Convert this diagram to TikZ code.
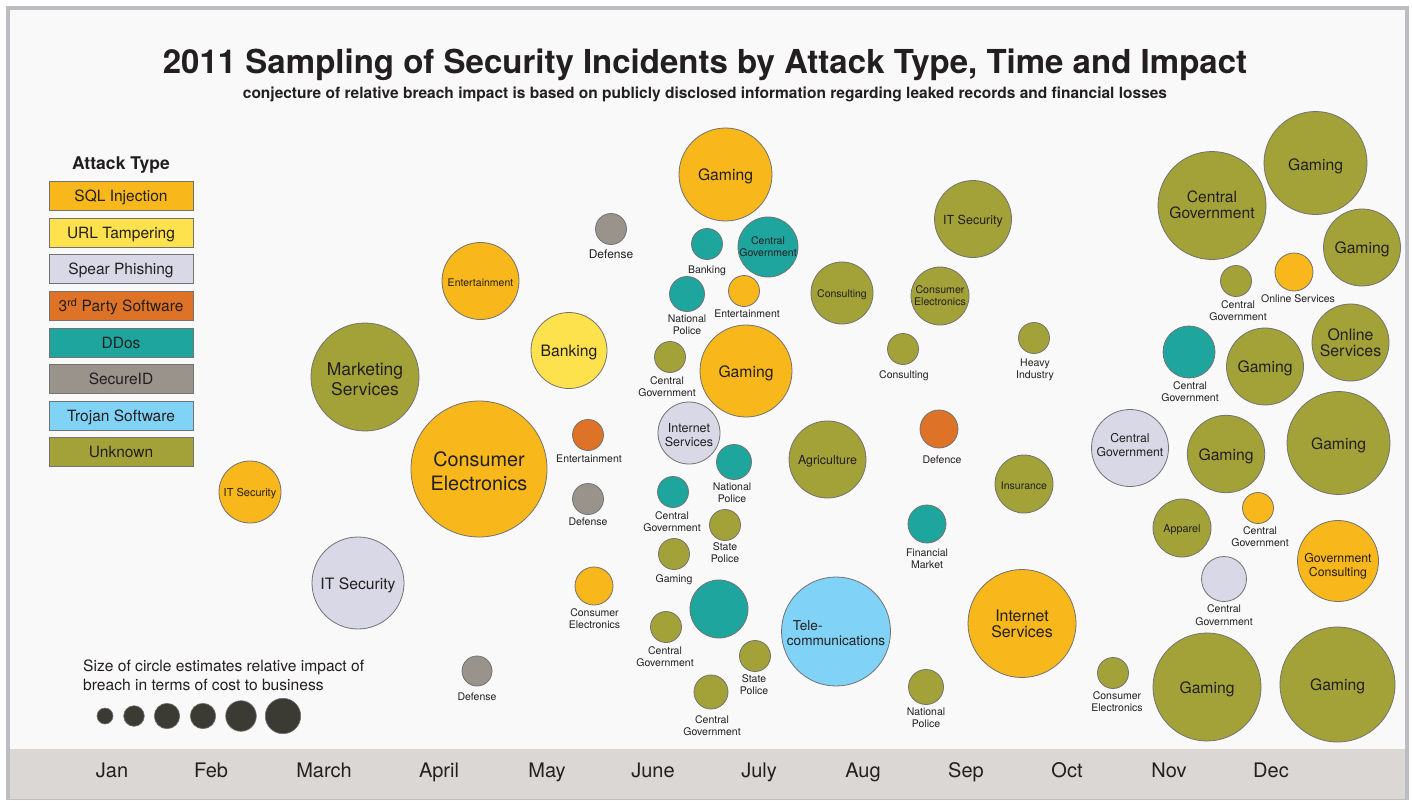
\documentclass[tikz,border=0pt]{standalone}
\usepackage{fontspec}
\setmainfont{TeX Gyre Heros}
\usetikzlibrary{calc}
\definecolor{csql}{HTML}{F8B71B}
\definecolor{curl}{HTML}{FDE14D}
\definecolor{cspear}{HTML}{D9D8E7}
\definecolor{cthird}{HTML}{DE7327}
\definecolor{cddos}{HTML}{1EA59D}
\definecolor{csecid}{HTML}{9A938C}
\definecolor{ctrojan}{HTML}{80D2F6}
\definecolor{cunk}{HTML}{A3A239}
\definecolor{cdot}{HTML}{3B3A33}
\definecolor{bord}{HTML}{727272}
\definecolor{tx}{HTML}{231F20}
\definecolor{frame}{HTML}{BCBDC0}
\definecolor{inner}{HTML}{F9F9F9}
\definecolor{bar}{HTML}{DBD7D4}
\newcommand\fsz[2]{\fontsize{#1}{#2}\selectfont}
\tikzset{
  bub/.style={circle, draw=bord, line width=0.8pt, inner sep=0pt},
  sql/.style={bub, fill=csql},
  url/.style={bub, fill=curl},
  spear/.style={bub, fill=cspear},
  third/.style={bub, fill=cthird},
  ddos/.style={bub, fill=cddos},
  secid/.style={bub, fill=csecid},
  trojan/.style={bub, fill=ctrojan},
  unk/.style={bub, fill=cunk},
  dot/.style={circle, fill=cdot, draw=bord, line width=0.6pt, inner sep=0pt},
  intxt/.style={text=tx, align=center, inner sep=0pt, yshift=-2pt},
  lab/.style={text=tx, align=center, inner sep=0pt, anchor=base, font=\fsz{10.5}{12}},
  legbox/.style={draw=bord, line width=1pt, minimum width=144pt, minimum height=29pt, inner sep=0pt, text=tx, text height=11pt, text depth=0pt, font=\fsz{15.5}{18}},
  month/.style={text=tx, anchor=base, inner sep=0pt, font=\fsz{20}{24}},
  sm/.style={font=\fsz{10.5}{12}},
  md/.style={font=\fsz{15.7}{16}},
}
\begin{document}
\begin{tikzpicture}[x=1pt,y=-1pt]
\useasboundingbox (0,0) rectangle (1412,800);
\fill[white] (0,0) rectangle (1412,800);
\fill[frame] (6,6) rectangle (1409,800);
\fill[inner] (10,10) rectangle (1405,749);
\fill[bar] (10,749) rectangle (1405,799);

% titles
\node[text=tx, anchor=base, inner sep=0pt, font=\bfseries\fsz{33}{36}] (title) at (705,74) {2011 Sampling of Security Incidents by Attack Type, Time and Impact};
\node[text=tx, anchor=base, inner sep=0pt, font=\bfseries\fsz{15.5}{18}] (subtitle) at (705,98) {conjecture of relative breach impact is based on publicly disclosed information regarding leaked records and financial losses};

% legend
\node[text=tx, anchor=base, inner sep=0pt, font=\bfseries\fsz{17.5}{20}] (legt) at (121,169) {Attack Type};
\node[legbox, fill=csql] (lg1) at (121,196) {SQL Injection};
\node[legbox, fill=curl] (lg2) at (121,232.5) {URL Tampering};
\node[legbox, fill=cspear] (lg3) at (121,269) {Spear Phishing};
\node[legbox, fill=cthird] (lg4) at (121,306) {3\textsuperscript{rd} Party Software};
\node[legbox, fill=cddos] (lg5) at (121,342.5) {DDos};
\node[legbox, fill=csecid] (lg6) at (121,379) {SecureID};
\node[legbox, fill=ctrojan] (lg7) at (121,416) {Trojan Software};
\node[legbox, fill=cunk] (lg8) at (121,452) {Unknown};

% size legend
\node[text=tx, anchor=base west, align=left, inner sep=0pt, font=\fsz{15.6}{19}] (sizet) at (83,690) {Size of circle estimates relative impact of\\breach in terms of cost to business};
\node[dot, minimum size=16pt] (d1) at (105,716) {};
\node[dot, minimum size=20.6pt] (d2) at (134,716) {};
\node[dot, minimum size=25.4pt] (d3) at (167,716) {};
\node[dot, minimum size=25.4pt] (d4) at (203,716) {};
\node[dot, minimum size=30.6pt] (d5) at (241,716) {};
\node[dot, minimum size=35.4pt] (d6) at (283,716) {};

% months
\node[month] (m1) at (112,777) {Jan};
\node[month] (m2) at (211,777) {Feb};
\node[month] (m3) at (324,777) {March};
\node[month] (m4) at (439,777) {April};
\node[month] (m5) at (547,777) {May};
\node[month] (m6) at (653,777) {June};
\node[month] (m7) at (759,777) {July};
\node[month] (m8) at (863,777) {Aug};
\node[month] (m9) at (966,777) {Sep};
\node[month] (m10) at (1067,777) {Oct};
\node[month] (m11) at (1169,777) {Nov};
\node[month] (m12) at (1271,777) {Dec};

% ---- bubbles ----
% Feb
\node[sql, minimum size=62pt] (c1) at (250,492) {};
\node[intxt, font=\fsz{11}{12}] (t1) at (c1.center) {IT Security};
% March
\node[unk, minimum size=108pt] (c2) at (365,377) {};
\node[intxt, font=\fsz{17.5}{20}] (t2) at (c2.center) {Marketing\\Services};
\node[spear, minimum size=92pt] (c3) at (358,583) {};
\node[intxt, md] (t3) at (c3.center) {IT Security};
% April
\node[sql, minimum size=77pt] (c4) at (480.5,281) {};
\node[intxt, sm] (t4) at (c4.center) {Entertainment};
\node[sql, minimum size=136pt] (c5) at (479,469) {};
\node[intxt, font=\fsz{19.8}{24}] (t5) at (c5.center) {Consumer\\Electronics};
\node[secid, minimum size=30pt] (c6) at (477,671) {};
\node[lab] (l6) at (477,700) {Defense};
% May
\node[url, minimum size=76pt] (c7) at (569,350.5) {};
\node[intxt, md] (t7) at (c7.center) {Banking};
\node[secid, minimum size=31pt] (c8) at (611,229) {};
\node[lab, font=\fsz{12}{13}] (l8) at (611,258.5) {Defense};
\node[third, minimum size=31pt] (c9) at (588,435) {};
\node[lab] (l9) at (589,462) {Entertainment};
\node[secid, minimum size=31pt] (c10) at (588,499) {};
\node[lab] (l10) at (588,525) {Defense};
\node[sql, minimum size=38pt] (c11) at (594,586) {};
\node[lab] (l11) at (594.5,628) {Consumer\\Electronics};
% June
\node[sql, minimum size=93pt] (c12) at (725.5,174.5) {};
\node[intxt, md] (t12) at (c12.center) {Gaming};
\node[ddos, minimum size=31pt] (c13) at (707,244) {};
\node[lab] (l13) at (707,273) {Banking};
\node[ddos, minimum size=60pt] (c14) at (768,247) {};
\node[intxt, yshift=2.5pt, font=\fsz{10.5}{12.5}] (t14) at (c14.center) {Central\\Government};
\node[ddos, minimum size=35pt] (c15) at (687,294) {};
\node[lab] (l15) at (687,334) {National\\Police};
\node[sql, minimum size=31pt] (c16) at (744,291) {};
\node[lab] (l16) at (747,317) {Entertainment};
\node[unk, minimum size=31pt] (c17) at (670,357) {};
\node[lab] (l17) at (667,396) {Central\\Government};
\node[sql, minimum size=92pt] (c18) at (746,371) {};
\node[intxt, md] (t18) at (c18.center) {Gaming};
\node[spear, minimum size=62pt] (c19) at (689,433) {};
\node[intxt, font=\fsz{12.5}{14}] (t19) at (c19.center) {Internet\\Services};
\node[ddos, minimum size=35pt] (c20) at (734,462) {};
\node[lab] (l20) at (732,502) {National\\Police};
\node[ddos, minimum size=31pt] (c21) at (673,492) {};
\node[lab] (l21) at (672,531) {Central\\Government};
\node[unk, minimum size=31pt] (c22) at (725,525) {};
\node[lab] (l22) at (725,562) {State\\Police};
\node[unk, minimum size=31pt] (c23) at (674,554) {};
\node[lab] (l23) at (674,582) {Gaming};
\node[ddos, minimum size=58pt] (c24) at (719,609) {};
\node[unk, minimum size=31pt] (c25) at (666,627) {};
\node[lab] (l25) at (665,666) {Central\\Government};
\node[unk, minimum size=31pt] (c26) at (755,656) {};
\node[lab] (l26) at (754,694) {State\\Police};
\node[unk, minimum size=34pt] (c27) at (711,692) {};
\node[lab] (l27) at (712,735) {Central\\Government};
% July / Aug
\node[unk, minimum size=62pt] (c28) at (842,293) {};
\node[intxt, sm] (t28) at (c28.center) {Consulting};
\node[unk, minimum size=77pt] (c29) at (827.5,459.5) {};
\node[intxt, font=\fsz{12.4}{14}] (t29) at (c29.center) {Agriculture};
\node[trojan, minimum size=109pt] (c30) at (836,631.5) {};
\node[intxt, align=left, font=\fsz{13.6}{15}] (t30) at (c30.center) {\hspace{6pt}Tele-\\communications};
% Sep
\node[unk, minimum size=77pt] (c31) at (973,219) {};
\node[intxt, font=\fsz{12.5}{14}] (t31) at (c31.center) {IT Security};
\node[unk, minimum size=58pt] (c32) at (940,296) {};
\node[intxt, yshift=2.5pt, font=\fsz{10.6}{12}] (t32) at (c32.center) {Consumer\\Electronics};
\node[unk, minimum size=31pt] (c33) at (903,349) {};
\node[lab] (l33) at (904,378) {Consulting};
\node[unk, minimum size=31pt] (c34) at (1034,338) {};
\node[lab] (l34) at (1035,378) {Heavy\\Industry};
\node[third, minimum size=38pt] (c35) at (939,429) {};
\node[lab] (l35) at (942,463) {Defence};
\node[ddos, minimum size=38pt] (c36) at (927,524) {};
\node[lab] (l36) at (927,568) {Financial\\Market};
\node[unk, minimum size=35pt] (c37) at (926,687) {};
\node[lab] (l37) at (926,727) {National\\Police};
\node[unk, minimum size=58pt] (c38) at (1024,484) {};
\node[intxt, sm] (t38) at (c38.center) {Insurance};
\node[sql, minimum size=108pt] (c39) at (1022,623.5) {};
\node[intxt, yshift=2pt, font=\fsz{15.9}{16}] (t39) at (c39.center) {Internet\\Services};
% Oct - Dec
\node[spear, minimum size=77pt] (c40) at (1130,448) {};
\node[intxt, yshift=4.5pt, font=\fsz{12.2}{14}] (t40) at (c40.center) {Central\\Government};
\node[unk, minimum size=31pt] (c41) at (1113,673) {};
\node[lab] (l41) at (1117,711) {Consumer\\Electronics};
\node[unk, minimum size=108pt] (c42) at (1207,687) {};
\node[intxt, md] (t42) at (c42.center) {Gaming};
\node[unk, minimum size=115pt] (c43) at (1337.5,684.5) {};
\node[intxt, md] (t43) at (c43.center) {Gaming};
\node[unk, minimum size=58pt] (c44) at (1182,528) {};
\node[intxt, font=\fsz{10.8}{12}] (t44) at (c44.center) {Apparel};
\node[sql, minimum size=31pt] (c45) at (1258,508) {};
\node[lab] (l45) at (1260,546) {Central\\Government};
\node[spear, minimum size=45pt] (c46) at (1224,579) {};
\node[lab, font=\fsz{10.5}{13}] (l46) at (1224,625) {Central\\Government};
\node[sql, minimum size=81pt] (c47) at (1338,561) {};
\node[intxt, yshift=-3pt, font=\fsz{12.3}{14}] (t47) at (c47.center) {Government\\Consulting};
\node[unk, minimum size=77.4pt] (c48) at (1226,454) {};
\node[intxt, md] (t48) at (c48.center) {Gaming};
\node[unk, minimum size=103pt] (c49) at (1338.5,443) {};
\node[intxt, md] (t49) at (c49.center) {Gaming};
\node[unk, minimum size=108pt] (c50) at (1212,205.5) {};
\node[intxt, yshift=2.5pt, font=\fsz{15.6}{16}] (t50) at (c50.center) {Central\\Government};
\node[unk, minimum size=103pt] (c51) at (1315.5,163) {};
\node[intxt, yshift=-1.5pt, md] (t51) at (c51.center) {Gaming};
\node[unk, minimum size=77pt] (c52) at (1362,247.5) {};
\node[intxt, md] (t52) at (c52.center) {Gaming};
\node[unk, minimum size=31pt] (c53) at (1236,281) {};
\node[lab] (l53) at (1238,320) {Central\\Government};
\node[sql, minimum size=38pt] (c54) at (1294,272) {};
\node[lab] (l54) at (1298,302) {Online Services};
\node[unk, minimum size=77pt] (c55) at (1350.5,342.5) {};
\node[intxt, yshift=2pt, font=\fsz{15.9}{16}] (t55) at (c55.center) {Online\\Services};
\node[ddos, minimum size=52pt] (c56) at (1189,352) {};
\node[lab] (l56) at (1190,401) {Central\\Government};
\node[unk, minimum size=77pt] (c57) at (1265,366.5) {};
\node[intxt, md] (t57) at (c57.center) {Gaming};
\end{tikzpicture}
\end{document}
